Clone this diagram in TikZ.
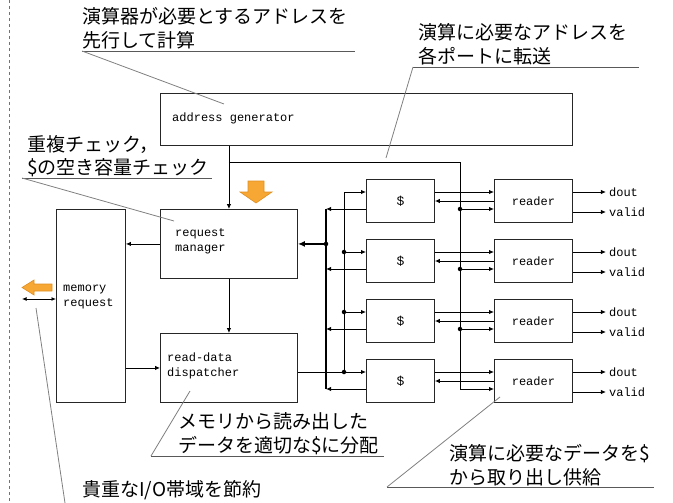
\documentclass[tikz,border=0pt]{standalone}
\usepackage{fontspec}
\newfontfamily\jp{Noto Sans CJK JP}
\newfontfamily\mono{Liberation Mono}
\usetikzlibrary{arrows.meta,calc}
\definecolor{arrOrange}{HTML}{F7A733}
\definecolor{arrOrangeD}{HTML}{E08E20}
\tikzset{
  blk/.style={draw=black!85, line width=0.9pt, inner sep=0pt, anchor=north west},
  lbl/.style={font=\mono\fontsize{12}{15}\selectfont, align=left, inner sep=0pt},
  wire/.style={line width=0.9pt, -{Latex[length=5pt,width=4.5pt]}},
  plain/.style={line width=0.9pt},
  thickbus/.style={line width=2pt},
  jdot/.style={circle, fill=black, inner sep=0pt, minimum size=4.5pt},
  note/.style={font=\jp\fontsize{19}{24}\selectfont, align=left, inner sep=0pt, anchor=base west},
  uline/.style={draw=black!65, line width=0.8pt},
  leader/.style={draw=black!50, line width=0.8pt},
  orangearrow/.style={fill=arrOrange, draw=arrOrangeD, line width=0.6pt},
}
\begin{document}
\begin{tikzpicture}[x=1pt,y=-1pt]
\useasboundingbox (0,0) rectangle (673,503);
\draw[black!55, line width=0.7pt, dash pattern=on 3pt off 3pt] (9,0) -- (9,503);

% main blocks
\node[blk, minimum width=412pt, minimum height=52pt] (addr) at (160,93) {};
\node[lbl, anchor=west] (addrt) at (172,118) {address generator};
\node[blk, minimum width=137pt, minimum height=69pt] (rm) at (160,209) {};
\node[lbl, anchor=west] (rmt) at (175,241) {request\\manager};
\node[blk, minimum width=69pt, minimum height=193pt] (mr) at (56,209) {};
\node[lbl, anchor=west] (mrt) at (63,297) {memory\\request};
\node[blk, minimum width=137pt, minimum height=69pt] (dp) at (160,333) {};
\node[lbl, anchor=west] (dpt) at (167,366) {read-data\\dispatcher};

% cache and reader rows
\foreach \i in {1,...,4} {
  \pgfmathsetmacro\t{179+60*(\i-1)}
  \node[blk, minimum width=68pt, minimum height=43pt] (c\i) at (366,\t) {};
  \node[font=\mono\fontsize{13}{13}\selectfont, inner sep=0pt] (ct\i) at (c\i.center) {\$};
  \node[blk, minimum width=78pt, minimum height=43pt] (r\i) at (494,\t) {};
  \node[lbl] (rt\i) at (r\i.center) {reader};
  \coordinate (ci\i) at ([yshift=-13pt]c\i.north west);
  \coordinate (co\i) at ([yshift=-30pt]c\i.north west);
  \coordinate (ce\i) at ([yshift=-13pt]c\i.north east);
  \coordinate (cb\i) at ([yshift=-22pt]c\i.north east);
  \coordinate (ri\i) at ([yshift=-13pt]r\i.north west);
  \coordinate (rb\i) at ([yshift=-22pt]r\i.north west);
  \coordinate (ra\i) at ([yshift=-30pt]r\i.north west);
  \coordinate (rd\i) at ([yshift=-13pt]r\i.north east);
  \coordinate (rv\i) at ([yshift=-33pt]r\i.north east);
  \coordinate (od\i) at ([xshift=33pt]rd\i);
  \coordinate (ov\i) at ([xshift=33pt]rv\i);
  \node[lbl, anchor=west] (dout\i) at ([xshift=3pt]od\i) {dout};
  \node[lbl, anchor=west] (valid\i) at ([xshift=3pt]ov\i) {valid};
}

% bus anchors
\coordinate (inT) at (344,192);
\coordinate (busT) at (326,209);
\coordinate (ac) at (460,162);
\path (rm.north) ++(0,-47) coordinate (aj);

% address path
\draw[wire] (addr.south -| rm.north) -- (rm.north);
\draw[wire] (aj) -- (ac) |- (ra4);
\foreach \i in {1,2,3} {
  \draw[wire] (ac |- ra\i) -- (ra\i);
  \node[jdot] (ad\i) at (ac |- ra\i) {};
}

% control flow
\draw[wire] (rm.west) -- (rm.west -| mr.east);
\draw[wire] (rm.south) -- (dp.north);
\draw[wire] (dp.west -| mr.east) -- (dp.west);

% read data distribution
\draw[plain] (inT) -- (ci4 -| inT);
\draw[wire] (dp.east |- ci4) -- (ci4);
\foreach \i in {1,2,3} {
  \draw[wire] (ci\i -| inT) -- (ci\i);
}
\foreach \i in {2,3,4} {
  \node[jdot] (id\i) at (ci\i -| inT) {};
}

% return bus
\draw[thickbus] (co1 -| busT) -- (co4 -| busT);
\foreach \i in {1,...,4} {
  \draw[wire] (co\i) -- (co\i -| busT);
  \draw[wire] (ce\i) -- (ri\i);
  \draw[wire] (rb\i) -- (cb\i);
  \draw[wire] (rd\i) -- (od\i);
  \draw[wire] (rv\i) -- (ov\i);
}
\node[jdot] (bd) at (rm.east -| busT) {};
\draw[thickbus, -{Latex[length=7pt,width=6pt]}] (bd) -- (rm.east);

% orange arrows
\filldraw[orangearrow] (248,181) -- (264,181) -- (264,192) -- (272,192) -- (256,203) -- (240,192) -- (248,192) -- cycle;
\filldraw[orangearrow] (52,284) -- (52,291) -- (34,291) -- (34,295) -- (22,287.5) -- (34,280) -- (34,284) -- cycle;

% memory IO
\coordinate (io) at (22,299);
\draw[plain, {Latex[length=4.5pt,width=4pt]}-{Latex[length=4.5pt,width=4pt]}] (io) -- (io -| mr.west);

% callouts (anchor = baseline of last line)
\node[note] (n1) at (82,48) {演算器が必要とするアドレスを\\先行して計算};
\draw[uline] (82,51) -- (355,51);
\draw[leader] (82,51) -- (224,104);

\node[note] (n2) at (418,63.5) {演算に必要なアドレスを\\各ポートに転送};
\draw[uline] (413,67) -- (639,67);
\draw[leader] (413,67) -- (386,158);

\node[note] (n3) at (27,175) {重複チェック，\\\$の空き容量チェック};
\draw[uline] (22,178) -- (212,178);
\draw[leader] (22,178) -- (174,221);

\node[note] (n4) at (178,452.5) {メモリから読み出した\\データを適切な\$に分配};
\draw[uline] (151,456) -- (384,456);
\draw[leader] (151,456) -- (190,391);

\node[note] (n5) at (449,484) {演算に必要なデータを\$\\から取り出し供給};
\draw[uline] (387,487) -- (654,487);
\draw[leader] (387,487) -- (500,397);

\node[note] (n6) at (82,496) {貴重なI/O帯域を節約};
\draw[leader] (36,308) -- (65,503);
\end{tikzpicture}
\end{document}
